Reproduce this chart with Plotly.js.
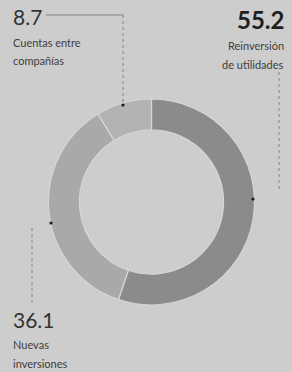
<!DOCTYPE html>
<html><head><meta charset="utf-8">
<script src="https://cdn.plot.ly/plotly-3.0.1.min.js"></script>
<style>html,body{margin:0;padding:0;background:#cdcdcd;}#c{width:292px;height:372px;}</style>
</head><body><div id="c"></div>
<script>
const labels = ["Reinversión de utilidades", "Nuevas inversiones", "Cuentas entre compañías"];
const values = [55.2, 36.1, 8.7];
const colors = ["#8b8b8b", "#a9a9a9", "#b3b3b3"];

const W = 292, H = 372;
const px = x => x / W, py = y => 1 - y / H;

const trace = {
  type: "pie", labels: labels, values: values, sort: false,
  direction: "clockwise", rotation: 0, hole: 0.70,
  textinfo: "none", hoverinfo: "none",
  marker: {colors: colors, line: {color: "#d6d6d6", width: 1.2}},
  domain: {x: [px(48.5), px(254.5)], y: [py(305), py(99)]},
  showlegend: false
};

const fam = "Lato, 'DejaVu Sans', sans-serif";
const numFont = {family: fam, size: 21, color: "#333333"};
const txtFont = {family: fam, size: 11, color: "#404040"};

function ann(text, x, y, xanchor, font) {
  return {text: text, x: px(x), y: py(y), xref: "paper", yref: "paper",
          xanchor: xanchor, yanchor: "middle", showarrow: false, font: font};
}

const annotations = [
  ann(values[2].toFixed(1), 11, 17, "left", numFont),
  ann("Cuentas entre", 11, 42, "left", txtFont),
  ann("compañías", 11, 61, "left", txtFont),
  ann("<b>" + values[0].toFixed(1) + "</b>", 286, 20, "right", {family: fam, size: 24, color: "#1e1e1e"}),
  ann("Reinversión", 286, 45, "right", txtFont),
  ann("de utilidades", 286, 64, "right", txtFont),
  ann(values[1].toFixed(1), 11, 319, "left", numFont),
  ann("Nuevas", 11, 344, "left", txtFont),
  ann("inversiones", 11, 363, "left", txtFont)
];

const lc = "#6e6e6e";
function line(x0, y0, x1, y1, dash) {
  return {type: "line", xref: "paper", yref: "paper", x0: px(x0), y0: py(y0), x1: px(x1), y1: py(y1),
          line: {color: lc, width: 0.8, dash: dash}};
}
function dot(x, y) {
  return {type: "circle", xref: "paper", yref: "paper", x0: px(x - 1.6), x1: px(x + 1.6), y0: py(y + 1.6), y1: py(y - 1.6),
          fillcolor: "#1a1a1a", line: {width: 0}};
}
const shapes = [
  line(46, 15, 123, 15, "solid"),
  line(123, 15, 123, 104, "dot"),
  dot(123, 105),
  line(279, 72, 279, 190, "dot"),
  dot(253, 199),
  line(32, 228, 32, 303, "dot"),
  dot(51, 223)
];

Plotly.newPlot("c", [trace], {
  width: W, height: H, margin: {l: 0, r: 0, t: 0, b: 0},
  paper_bgcolor: "#cdcdcd", plot_bgcolor: "#cdcdcd",
  annotations: annotations, shapes: shapes
}, {displayModeBar: false, staticPlot: true});
</script></body></html>
